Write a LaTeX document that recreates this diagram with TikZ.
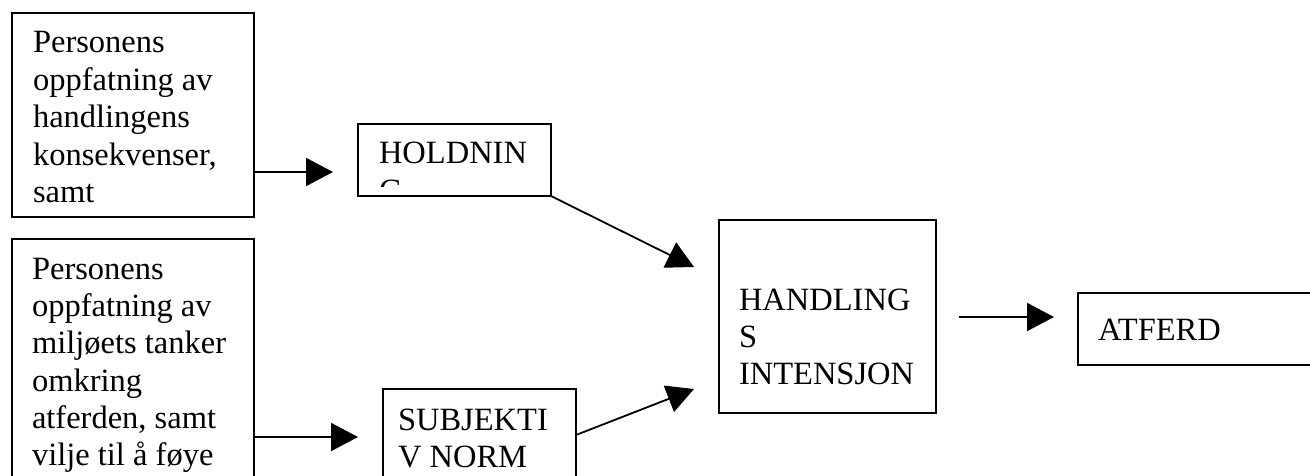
\documentclass[tikz,border=0pt]{standalone}
\usepackage{fontspec}
\setmainfont{Liberation Serif}
\usetikzlibrary{arrows.meta}

% stacked lines, baseline of the whole stack = baseline of the first line
\newcommand\stacklines[1]{\vtop{\halign{##\hfil\cr#1\crcr}}}

\tikzset{
  box/.style={draw=black, line width=2pt, inner sep=0pt, outer sep=0pt, fill=white},
  label/.style={anchor=base west, inner sep=0pt, outer sep=0pt,
    font=\fontsize{32.5}{37.4}\selectfont},
  arr/.style={draw=black, line width=1.8pt,
    -{Triangle[length=27pt,width=28pt]}},
}

\begin{document}
\begin{tikzpicture}[x=1pt, y=-1pt]
  \useasboundingbox (0,0) rectangle (1310,476);
  \fill[white] (0,0) rectangle (1310,476);
  \clip (0,0) rectangle (1310,476);

  % boxes (centre, width, height)
  \node[box, minimum width=242pt, minimum height=204pt] (b1)   at (133,115) {};
  \node[box, minimum width=242pt, minimum height=300pt] (b2)   at (133,389) {};
  \node[box, minimum width=193pt, minimum height=72pt]  (hold) at (454.5,160) {};
  \node[box, minimum width=193pt, minimum height=140pt] (subj) at (479.5,459) {};
  \node[box, minimum width=217pt, minimum height=193pt] (hint) at (827.5,316.5) {};
  \node[box, minimum width=260pt, minimum height=72pt]  (atf)  at (1208,329) {};

  % texts
  \node[label] (b1txt) at (33,53) {\stacklines{Personens\cr oppfatning av\cr handlingens\cr konsekvenser,\cr samt}};
  \node[label] (b2txt) at (32,279) {\stacklines{Personens\cr oppfatning av\cr milj\o ets tanker\cr omkring\cr atferden, samt\cr vilje til \aa{} f\o ye}};
  \begin{scope}
    \clip (358,124) rectangle (551,187);
    \node[label] (holdtxt) at (379,164) {\stacklines{HOLDNIN\cr G}};
  \end{scope}
  \node[label] (subjtxt) at (398,430) {\stacklines{SUBJEKTI\cr V NORM}};
  \node[label] (hinttxt) at (739,310) {\stacklines{HANDLING\cr S\cr INTENSJON}};
  \node[label] (atftxt)  at (1098,340) {ATFERD};

  % arrow tips and free ends
  \coordinate (t1) at (333,172);
  \coordinate (t2) at (358,437);
  \coordinate (t3) at (694,267);
  \coordinate (t4) at (694,389);
  \coordinate (s5) at (959,317);
  \coordinate (t5) at (1054,317);

  % connectors
  \draw[arr] (b1.east |- t1) -- (t1);
  \draw[arr] (b2.east |- t2) -- (t2);
  \draw[arr] (hold.south east) -- (t3);
  \draw[arr] ([yshift=-46pt]subj.north east) -- (t4);
  \draw[arr] (s5) -- (t5);
\end{tikzpicture}
\end{document}
